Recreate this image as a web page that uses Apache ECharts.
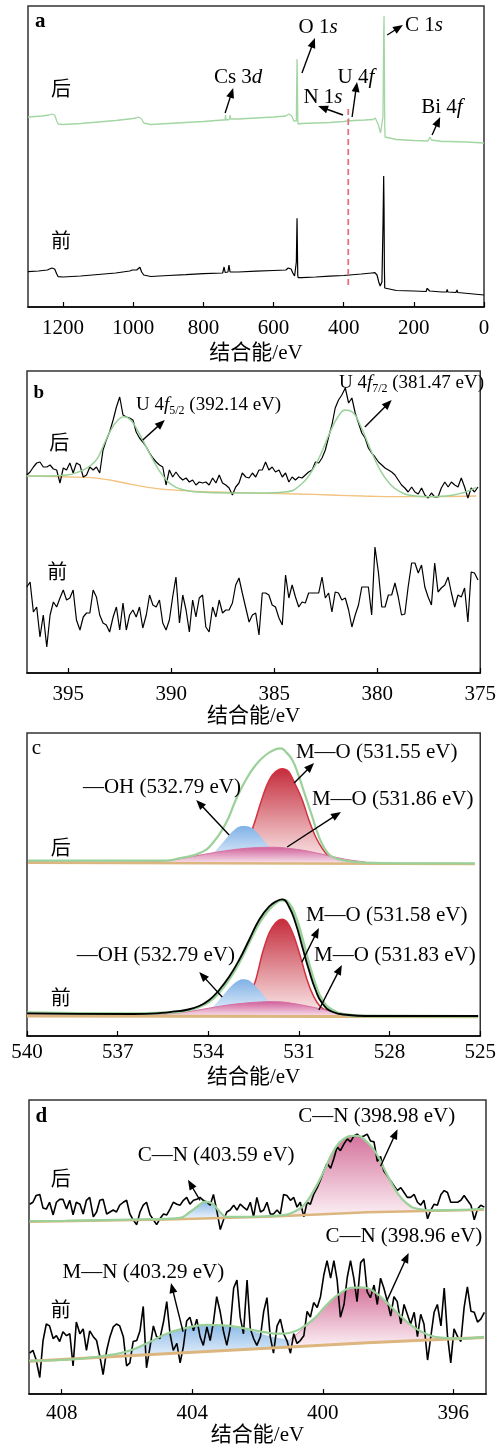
<!DOCTYPE html>
<html><head><meta charset="utf-8">
<script src="https://cdn.jsdelivr.net/npm/echarts@6/dist/echarts.min.js"></script>
<style>html,body{margin:0;padding:0;background:#fff}#c{width:499px;height:1447px}</style>
</head><body><div id="c"></div>
<script>
const SERIF = "'Liberation Serif','Noto Sans CJK SC',serif";
const CJK = "'Noto Sans CJK SC',sans-serif";
const GREEN = '#99d199', ORANGE = '#f2c27e', TAN = '#dcb67e';

// ---------- panel a : survey (binding energy eV, intensity a.u.) ----------
const aAfter = [[1300,190],[1280,190.5],[1260,191],[1240,192],[1232,193],[1228,195],[1224,192],[1218,186],[1214,183],[1200,182.5],[1150,183.5],[1100,185],[1050,186.5],[1000,188.5],[992,189],[985,190],[981,192],[976,188],[970,184],[966,182],[950,182.5],[900,183.5],[850,184.5],[800,185.5],[745,187],[738,187],[737,192],[735,187],[726,187.5],[724,192],[722,188],[700,188],[650,189],[600,190],[565,191],[556,193],[553,194],[548,191],[542,186],[539,184],[535,186],[534,220],[533,248],[532,230],[531,190],[530,183],[520,183.5],[480,184],[440,184.5],[400,185.5],[388,186],[386,189],[384,186],[370,186.5],[340,187],[316,187.5],[310,189],[306,190],[301,182],[295,174],[291,172],[288,190],[286,270],[285,291],[284,240],[283,180],[282,170],[280,168.5],[250,167.5],[200,166.5],[160,166],[156,168],[154,170],[150,167],[120,165.5],[100,165.5],[98,167],[96,165.5],[50,165],[0,164]];
const aBefore = [[1300,35.3],[1270,36],[1245,37],[1232,39],[1228,41],[1224,38],[1218,33],[1214,30.3],[1200,30],[1150,31],[1100,32.5],[1050,34],[1010,36],[1003,37],[1000,39],[996,37],[990,37],[981,39.7],[976,35],[970,32],[966,30.3],[950,30.5],[900,31.5],[850,32.3],[800,33.3],[745,34],[741,40],[738,34.5],[730,35],[727,42],[724,35],[700,35],[650,35.8],[600,36.5],[565,37],[558,39],[556,40.3],[550,38],[545,34],[540,31],[537,30.3],[535,45],[533,88.7],[532,60],[531,32],[530,29.3],[520,29.3],[480,30],[440,30.8],[400,31.5],[350,33],[320,34],[311,34.3],[305,32],[300,25],[296,21],[294,19.7],[291,25],[288,80],[286,131],[285,100],[284,40],[283,19],[282,17],[250,16.5],[200,16],[165,15.5],[162,18.7],[158,18.5],[155,16],[120,15],[107,15],[105,17.7],[103,15],[80,14.5],[77,17],[75,14.5],[30,13],[0,12]];
const aU4f = [[387,22],[387,199]];
const aTicks = [0,200,400,600,800,1000,1200];
const aNotes = [[1280,285,'{b|a}','left'],[473,280,'{n|O 1}{i|s}','center'],[171,282,'{n|C 1}{i|s}','center'],[701,230,'{n|Cs 3}{i|d}','center'],[365,230,'{n|U 4}{i|f}','center'],[459,210,'{n|N 1}{i|s}','center'],[120,200,'{n|Bi 4}{i|f}','center'],[1206,219,'{z|后}','center'],[1206,67,'{z|前}','center']];
const aArrows = [[519,234,482,269],[276,272,231,282],[738,194,715,219],[376,190,362,225],[402,192,473,201],[148,172,125,190]];

// ---------- panel b : U 4f ----------
const bE = [397.01,396.85,396.69,396.53,396.37,396.21,396.04,395.88,395.72,395.56,395.40,395.24,395.08,394.92,394.76,394.60,394.43,394.27,394.11,393.95,393.79,393.63,393.47,393.31,393.15,392.99,392.82,392.66,392.50,392.34,392.18,392.02,391.86,391.70,391.54,391.38,391.21,391.05,390.89,390.73,390.57,390.41,390.25,390.09,389.93,389.77,389.60,389.44,389.28,389.12,388.96,388.80,388.64,388.48,388.32,388.16,387.99,387.83,387.67,387.51,387.35,387.19,387.03,386.87,386.71,386.55,386.38,386.22,386.06,385.90,385.74,385.58,385.42,385.26,385.10,384.94,384.77,384.61,384.45,384.29,384.13,383.97,383.81,383.65,383.49,383.33,383.16,383.00,382.84,382.68,382.52,382.36,382.20,382.04,381.88,381.72,381.55,381.39,381.23,381.07,380.91,380.75,380.59,380.43,380.27,380.11,379.94,379.78,379.62,379.46,379.30,379.14,378.98,378.82,378.66,378.50,378.33,378.17,378.01,377.85,377.69,377.53,377.37,377.21,377.05,376.89,376.72,376.56,376.40,376.24,376.08,375.92,375.76,375.60,375.44,375.28,375.11];
const bAfter = [198,201,206,210,211,206,206,208,204,203,190,205,203,210,200,210,208,196,198,206,203,206,200,223,233,241,253,266,276,258,256,255,253,241,235,231,226,220,215,211,208,206,188,203,196,201,196,193,195,191,193,188,191,190,191,188,195,190,198,190,188,185,178,186,190,200,196,195,200,196,203,203,211,203,206,201,203,196,200,191,196,193,196,195,198,201,203,211,210,215,223,236,248,265,273,278,285,270,275,260,250,240,235,225,220,216,211,208,205,203,201,198,193,188,185,181,186,181,179,185,178,175,180,176,176,185,191,186,191,188,186,195,186,175,185,181,186];
const bBefore = [86,91,61,66,36,58,26,58,71,66,75,83,73,75,83,53,43,56,60,60,83,76,58,50,48,41,56,66,43,70,43,58,63,56,66,45,58,78,68,66,73,50,43,53,76,96,50,78,63,41,73,56,75,78,46,41,66,56,73,60,63,63,70,88,95,80,65,51,58,60,38,80,80,78,68,66,55,48,98,75,88,76,66,71,70,80,80,80,80,96,75,80,61,81,80,73,75,63,46,58,68,86,86,86,58,126,100,66,66,78,78,90,76,58,59,86,110,110,100,108,86,76,68,110,81,85,88,96,80,66,78,76,85,51,101,100,93];
const bFit = [[397.01,197],[395.97,197],[395.16,197.7],[394.36,202.3],[393.88,208],[393.55,215.7],[393.23,230.3],[392.91,243.7],[392.58,253],[392.29,256.3],[391.94,252.3],[391.62,242],[391.30,229.7],[390.97,216.3],[390.65,204.7],[390.33,195.3],[390.01,188.7],[389.52,183.7],[388.72,181],[387.11,180],[385.50,180],[384.37,181.3],[383.73,188],[383.24,199.7],[382.76,218],[382.28,241.3],[381.88,257],[381.55,263],[381.23,261.3],[380.83,248],[380.35,224.7],[379.86,203],[379.38,189],[378.90,181.3],[378.25,177.3],[377.45,176.3],[376.64,177],[375.84,180.3],[375.19,185.7]];
const bBack = [[397.01,197],[394.36,195.7],[393.55,194.7],[392.75,192],[391.94,188.7],[391.14,185.7],[390.33,183.7],[388.72,181.7],[387.11,180.7],[385.50,179.7],[383.89,179],[382.28,178],[380.67,177],[379.06,176.3],[377.45,176.3],[375.19,177]];
const bTicks = [375,380,385,390,395];
const bNotes = [[396.69,280,'{b|b}','left'],[391.71,268,'{n|U 4}{i|f}{s|5/2}{n| (392.14 eV)}','left'],[381.86,290,'{n|U 4}{i|f}{s|7/2}{n| (381.47 eV)}','left'],[395.43,231,'{z|后}','center'],[395.53,102,'{z|前}','center']];
const bArrows = [[391.38,233,390.31,253],[380.60,246,379.30,273]];

// ---------- panel c : O 1s ----------
const cAfterEnv = [[539.96,175.3],[535.40,175.3],[534.96,177.7],[534.30,182.7],[533.86,192.7],[533.42,212.7],[533.09,236],[532.76,256],[532.43,271],[532.10,281],[531.77,286.7],[531.60,287.7],[531.44,284.3],[531.22,276],[531.00,259.3],[530.78,239.3],[530.56,219.3],[530.34,199.3],[530.12,186],[529.90,179.3],[529.46,175.3],[528.80,173.3],[527.70,172.7],[525.18,172.7]];
const cAfterRed = [[533.20,174.3],[532.87,180],[532.65,195],[532.54,207],[532.43,217],[532.32,228],[532.10,248],[531.88,261],[531.66,266.5],[531.49,267],[531.33,264],[531.11,251],[530.89,236],[530.67,216],[530.45,199.3],[530.23,187.7],[530.01,179.3],[529.79,175.3],[529.57,174]];
const cAfterBlue = [[534.30,174.3],[533.97,179.3],[533.64,189.3],[533.31,201],[533.03,208.7],[532.78,210],[532.54,207.7],[532.26,199.3],[531.99,189.3],[531.66,179.3],[531.33,174.3]];
const cAfterPink = [[539.96,174],[536.49,174],[535.40,175.3],[534.74,178.3],[534.08,182],[533.42,185.3],[532.76,187.7],[532.10,188.7],[531.77,188.7],[531.44,188],[530.78,185.3],[530.12,181],[529.46,176.7],[528.80,174]];
const cAfterBase = [[539.96,173.3],[525.18,172]];
const cBeforeRaw = [[540.0,22.7],[536.49,22],[535.40,23.3],[535.18,24.3],[534.74,26],[534.30,30],[533.97,36],[533.64,46],[533.31,59.3],[532.98,76],[532.65,96],[532.32,116],[531.99,129.3],[531.71,135.3],[531.55,136.7],[531.33,129.3],[531.11,112.7],[530.89,89.3],[530.67,66],[530.45,46],[530.23,32.7],[529.90,24.3],[529.35,21],[528.80,20],[525.07,20]];
const cBeforeFit = [[540.0,23.3],[536.49,22.3],[535.40,23.3],[534.74,25.3],[534.30,29.3],[533.97,34.3],[533.64,43.7],[533.31,56.7],[532.98,73.3],[532.65,93.3],[532.32,112.7],[531.99,126.7],[531.71,134.3],[531.55,136],[531.33,132.7],[531.11,119.3],[530.89,97.7],[530.67,72.7],[530.45,51],[530.23,36],[529.90,26],[529.35,21],[528.80,20],[525.07,19.7]];
const cBeforeRed = [[532.98,22.7],[532.65,39.3],[532.43,56],[532.21,82.7],[531.99,102.7],[531.77,113.3],[531.57,116.7],[531.38,113.3],[531.16,99.3],[530.95,79.3],[530.73,56],[530.51,39.3],[530.29,29.3],[530.01,24.3],[529.79,21]];
const cBeforeBlue = [[534.30,21],[533.97,26],[533.64,36],[533.31,47.7],[533.03,55],[532.81,56.7],[532.59,54.3],[532.32,46],[532.04,36],[531.77,26],[531.44,21]];
const cBeforePink = [[540.0,22],[536.49,21],[535.40,22],[534.74,24],[534.08,27.3],[533.42,30.7],[532.76,33],[532.10,34.3],[531.77,34.3],[531.44,33.7],[530.78,30.3],[530.12,26],[529.46,22],[528.80,20]];
const cBeforeBase = [[540.0,20],[525.07,19.3]];
const cTicks = [525,528,531,534,537,540];
const cNotes = [[539.84,288,'{n|c}','left'],[538.15,249,'{n|—OH (532.79 eV)}','left'],[531.10,284,'{n|M—O (531.55 eV)}','left'],[530.57,237,'{n|M—O (531.86 eV)}','left'],[538.88,189,'{z|后}','center'],[530.77,121,'{n|M—O (531.58 eV)}','left'],[530.50,81,'{n|M—O (531.83 eV)}','left'],[538.35,81,'{n|—OH (532.79 eV)}','left'],[538.88,39,'{z|前}','center']];
const cArrows = [[533.31,201,534.40,236],[531.16,253,530.50,273],[531.39,189,529.61,224],[530.90,74,530.34,108],[530.34,26,529.58,71],[533.54,39,534.30,64]];

// ---------- panel d : N 1s ----------
const dE = [408.98,408.88,408.78,408.67,408.57,408.47,408.37,408.26,408.16,408.06,407.96,407.85,407.75,407.65,407.55,407.44,407.34,407.24,407.14,407.03,406.93,406.83,406.73,406.62,406.52,406.42,406.32,406.22,406.11,406.01,405.91,405.81,405.70,405.60,405.50,405.40,405.29,405.19,405.09,404.99,404.88,404.78,404.68,404.58,404.47,404.37,404.27,404.17,404.07,403.96,403.86,403.76,403.66,403.55,403.45,403.35,403.25,403.14,403.04,402.94,402.84,402.73,402.63,402.53,402.43,402.32,402.22,402.12,402.02,401.91,401.81,401.71,401.61,401.51,401.40,401.30,401.20,401.10,400.99,400.89,400.79,400.69,400.58,400.48,400.38,400.28,400.17,400.07,399.97,399.87,399.76,399.66,399.56,399.46,399.35,399.25,399.15,399.05,398.95,398.84,398.74,398.64,398.54,398.43,398.33,398.23,398.13,398.02,397.92,397.82,397.72,397.61,397.51,397.41,397.31,397.20,397.10,397.00,396.90,396.79,396.69,396.59,396.49,396.38,396.28,396.18,396.08,395.98,395.87,395.77,395.67,395.57,395.46,395.36,395.26,395.16,395.05];
const dAfter = [195,197,204,205,191,190,197,184,197,200,200,190,199,184,197,195,185,199,202,182,187,199,200,185,187,189,187,194,197,199,185,179,174,187,194,197,184,179,174,180,185,184,190,197,195,194,199,202,195,199,200,202,199,197,194,205,189,169,179,187,189,194,189,195,192,189,197,182,202,187,189,197,185,185,189,185,205,204,199,202,192,197,182,197,195,205,212,220,229,237,232,242,254,250,257,262,259,265,267,264,265,267,260,259,239,244,229,224,219,214,209,212,207,202,202,205,197,194,199,180,189,195,194,205,209,207,197,197,197,199,204,199,194,179,190,194,192];
const dBefore = [42,45,35,17,55,72,70,57,60,54,64,60,62,29,74,62,67,45,65,59,55,39,20,45,59,69,72,70,59,29,32,54,55,65,90,27,49,70,59,57,74,95,62,45,52,32,49,75,79,65,77,59,50,69,55,74,100,84,64,50,67,109,117,79,62,117,67,57,50,59,85,99,59,42,70,77,62,55,42,62,52,55,60,85,79,94,89,100,122,137,119,137,117,79,92,120,137,119,95,135,139,105,99,112,92,119,109,95,80,100,95,72,92,82,72,84,59,82,72,35,59,84,92,70,109,60,32,67,59,54,89,110,85,84,74,77,84];
const dAfterFit = [[408.98,177.7],[407.86,178],[406.83,178.7],[405.81,179.3],[404.78,180],[404.37,181],[404.07,187],[403.76,194.7],[403.61,197.7],[403.40,196],[403.15,187],[402.94,182],[402.53,182],[401.71,182.7],[401.20,183.7],[400.89,187],[400.59,193.7],[400.28,208.7],[399.97,228.7],[399.66,250.3],[399.36,262],[399.00,265.3],[398.64,258.7],[398.33,245.3],[398.03,225.3],[397.72,207],[397.41,195.3],[397.10,190.3],[396.59,188.7],[395.57,189.3],[395.06,190.3]];
const dAfterBase = [[408.98,177],[404.78,179.3],[401.71,182],[398.64,186.7],[395.06,189.3]];
const dAfterPink = [[401.30,183.3],[400.89,187],[400.59,193.7],[400.28,208.7],[399.97,228.7],[399.66,250.3],[399.36,262],[399.00,265.3],[398.64,258.7],[398.33,245.3],[398.03,225.3],[397.72,207],[397.41,195.3],[397.10,190.3],[396.79,188.5]];
const dAfterPinkBase = [[401.30,182.2],[396.79,188.3]];
const dAfterBlue = [[404.47,180.3],[404.27,182.5],[404.07,187],[403.76,194.7],[403.61,197.7],[403.40,196],[403.15,187],[402.94,182],[402.74,181.2]];
const dAfterBlueBase = [[404.47,179.6],[402.74,180.7]];
const dBeforeFit = [[408.98,34.3],[407.86,35.3],[406.83,38.7],[406.01,43.7],[405.40,52],[404.78,62],[404.17,68],[403.56,71],[402.94,70.3],[402.33,67],[401.81,63.7],[401.30,62],[401.00,63],[400.69,67],[400.28,77],[399.87,92],[399.46,103.7],[399.05,109.3],[398.74,109.3],[398.43,105.3],[398.03,93.7],[397.62,80.3],[397.21,68.7],[396.80,61.3],[396.39,58],[395.77,57],[395.06,58.7]];
const dBeforeBase = [[408.98,33.7],[405.81,39.7],[401.71,47],[398.64,52.7],[395.06,58]];
const dBeforeBlue = [[408.98,34.7],[406.83,38.7],[406.01,43.7],[405.40,52],[404.78,61.3],[404.17,67.7],[403.56,70.7],[402.94,70],[402.33,66],[401.71,60.3],[401.10,56],[400.48,53.3],[399.87,52],[399.26,52],[398.64,53],[397.62,54.3],[396.59,56],[395.06,58]];
const dBeforePink = [[401.00,56],[400.69,64.7],[400.28,77],[399.87,92],[399.46,103.7],[399.05,109.3],[398.74,109.3],[398.43,105.3],[398.03,93.7],[397.62,80.3],[397.21,68.7],[396.80,61.3],[396.39,58],[396.08,56.7]];
const dBeforePinkBase = [[401.00,47.8],[396.08,55.6]];
const dTicks = [396,400,404,408];
const dNotes = [[408.8,285,'{b|d}','left'],[400.75,285,'{n|C—N (398.98 eV)}','left'],[405.67,245,'{n|C—N (403.59 eV)}','left'],[408.03,222,'{z|后}','center'],[399.92,162,'{n|C—N (398.96 eV)}','left'],[407.97,125,'{n|M—N (403.29 eV)}','left'],[408.03,87,'{z|前}','center']];
const dArrows = [[398.23,234,397.71,272],[403.76,199,404.13,220],[398.02,97,397.37,145],[404.28,64,404.65,114]];

// ---------- helpers ----------
const zip = (xs, ys) => xs.map((x, i) => [x, ys[i]]);
function line(g, data, color, width, smooth, extra) {
  return Object.assign({type:'line', xAxisIndex:g, yAxisIndex:g, data, symbol:'none', smooth:smooth||false,
    lineStyle:{color, width}, silent:true, animation:false}, extra||{});
}
function catmull(p) {
  let d = 'M' + p[0][0] + ',' + p[0][1];
  for (let i = 0; i < p.length - 1; i++) {
    const p0 = p[Math.max(i-1,0)], p1 = p[i], p2 = p[i+1], p3 = p[Math.min(i+2,p.length-1)];
    d += 'C' + (p1[0]+(p2[0]-p0[0])/6) + ',' + (p1[1]+(p2[1]-p0[1])/6) + ',' +
         (p2[0]-(p3[0]-p1[0])/6) + ',' + (p2[1]-(p3[1]-p1[1])/6) + ',' + p2[0] + ',' + p2[1];
  }
  return d;
}
function fill(g, top, base, c0, c1, stroke, sw) {
  return {type:'custom', xAxisIndex:g, yAxisIndex:g, data:top, encode:{x:0,y:1}, silent:true, animation:false, clip:true,
    renderItem(params, api) {
      if (params.dataIndex !== 0) return null;
      const tp = top.map(p => api.coord(p));
      const bp = base.map(p => api.coord(p)).reverse();
      let d = catmull(tp);
      bp.forEach(p => { d += 'L' + p[0] + ',' + p[1]; });
      d += 'Z';
      const ch = [{type:'path', shape:{pathData:d}, style:{fill:new echarts.graphic.LinearGradient(0,0,0,1,[{offset:0,color:c0},{offset:1,color:c1}])}}];
      if (stroke) ch.push({type:'path', shape:{pathData:catmull(tp)}, style:{fill:'none', stroke, lineWidth:sw||1.5}});
      return {type:'group', children:ch};
    }};
}
function xAxis(g, min, max, ticks, margin, gap, interval, showMax) {
  const ax = {type:'value', gridIndex:g, min, max, inverse:true,
    axisLine:{show:true, onZero:false, lineStyle:{color:'#000', width:1.5}},
    axisTick:{show:true, inside:true, length:5, lineStyle:{color:'#000', width:1.2}},
    axisLabel:{show:true, margin, fontSize:21, fontFamily:SERIF, color:'#000', showMaxLabel:showMax, showMinLabel:true,
      formatter: v => String(v)},
    splitLine:{show:false},
    name:'结合能/eV', nameLocation:'middle', nameGap:gap, nameTextStyle:{fontSize:21, fontFamily:SERIF, color:'#000'}};
  if (interval) { ax.interval = interval; }
  else { ax.axisLabel.customValues = ticks; ax.axisTick.customValues = ticks; }
  return ax;
}
function yAxis(g, h) { return {type:'value', gridIndex:g, min:0, max:h, show:false}; }

const grids = [
  {left:28, top:6, width:456, height:301},
  {left:27, top:371, width:457, height:302},
  {left:27, top:733, width:455, height:303},
  {left:29, top:1100, width:457, height:302}
].map(g => Object.assign(g, {show:true, borderColor:'#333', borderWidth:1.5, backgroundColor:'transparent'}));

const series = [
  // a
  line(0, aBefore, '#000', 1.2),
  line(0, aAfter, '#a3d6a3', 1.3),
  line(0, aU4f, '#e8707e', 1.8, false, {lineStyle:{color:'#e8707e', width:1.8, type:[6,4]}}),
  // b
  line(1, zip(bE, bBefore), '#000', 1.2),
  line(1, bBack, ORANGE, 1.3, true),
  line(1, zip(bE, bAfter), '#000', 1.2),
  line(1, bFit, GREEN, 1.5, true),
  // c upper
  fill(2, cAfterRed, [[533.20,173],[529.57,173]], '#c52c3c', '#fbeeee', '#d2323f', 1.5),
  fill(2, cAfterBlue, [[534.30,173],[531.33,173]], '#7fb1e6', '#eef5fc', null),
  fill(2, cAfterPink, [[539.96,173],[528.80,173]], '#d0609a', '#f7e0ea', '#d86fa3', 1),
  line(2, cAfterBase, TAN, 2.5),
  line(2, cAfterEnv, GREEN, 2.2, true),
  // c lower
  fill(2, cBeforeRed, [[532.98,20],[529.79,20]], '#c52c3c', '#fbeeee', '#d2323f', 1.5),
  fill(2, cBeforeBlue, [[534.30,20],[531.44,20]], '#7fb1e6', '#eef5fc', null),
  fill(2, cBeforePink, [[540.0,20],[528.80,20]], '#d0609a', '#f7e0ea', '#d86fa3', 1),
  line(2, cBeforeBase, TAN, 3),
  line(2, cBeforeFit, GREEN, 2.8, true),
  line(2, cBeforeRaw, '#000', 1.8, true),
  // d upper
  fill(3, dAfterBlue, dAfterBlueBase, '#8dbbe8', '#eef5fc', null),
  fill(3, dAfterPink, dAfterPinkBase, '#d5739c', '#fcf1f5', null),
  line(3, zip(dE, dAfter), '#000', 1.6),
  line(3, dAfterBase, TAN, 2.5),
  line(3, dAfterFit, GREEN, 2.2, true),
  // d lower
  fill(3, dBeforeBlue, dBeforeBase, '#8dbbe8', '#f2f7fd', null),
  fill(3, dBeforePink, dBeforePinkBase, '#d5739c', '#fcf1f5', '#d98aac', 1),
  line(3, zip(dE, dBefore), '#000', 1.6),
  line(3, dBeforeBase, TAN, 3),
  line(3, dBeforeFit, GREEN, 2.2, true)
];

const chart = echarts.init(document.getElementById('c'), null, {renderer:'canvas'});
chart.setOption({
  animation:false,
  backgroundColor:'#fff',
  grid: grids,
  xAxis: [xAxis(0, 0, 1300, aTicks, 11, 36, 200, false), xAxis(1, 375, 397, bTicks, 11, 29, 5, false),
          xAxis(2, 525, 540, cTicks, 6, 31, 3, true), xAxis(3, 395, 409, dTicks, 9, 27, null, true)],
  yAxis: [yAxis(0, 301), yAxis(1, 302), yAxis(2, 303), yAxis(3, 302)],
  series
});

function rich(fs) {
  const lh = Math.round(fs * 1.2), ss = Math.round(fs * 0.62);
  return {
    n:{fontFamily:SERIF, fontSize:fs, fill:'#000', lineHeight:lh},
    i:{fontFamily:SERIF, fontSize:fs, fontStyle:'italic', fill:'#000', lineHeight:lh},
    s:{fontFamily:SERIF, fontSize:ss, fill:'#000', verticalAlign:'bottom', lineHeight:ss},
    b:{fontFamily:SERIF, fontSize:fs, fontWeight:'bold', fill:'#000', lineHeight:lh},
    z:{fontFamily:CJK, fontSize:20, fill:'#000', lineHeight:24}
  };
}
const els = [];
function addNotes(g, notes, fs) {
  notes.forEach(n => {
    const p = chart.convertToPixel({gridIndex:g}, [n[0], n[1]]);
    els.push({type:'text', z:100, x:p[0], y:p[1], silent:true,
      style:{text:n[2], align:n[3], verticalAlign:'middle', rich:rich(fs), fontFamily:SERIF, fontSize:fs, fill:'#000'}});
  });
}
function addArrows(g, arrows) {
  arrows.forEach(r => {
    const a = chart.convertToPixel({gridIndex:g}, [r[0], r[1]]);
    const b = chart.convertToPixel({gridIndex:g}, [r[2], r[3]]);
    const dx = b[0]-a[0], dy = b[1]-a[1], L = Math.hypot(dx, dy), ux = dx/L, uy = dy/L;
    const hl = 10, hw = 4;
    const bx = b[0]-ux*hl, by = b[1]-uy*hl;
    els.push({type:'line', z:100, silent:true, shape:{x1:a[0], y1:a[1], x2:bx+ux*2, y2:by+uy*2}, style:{stroke:'#000', lineWidth:1.4}});
    els.push({type:'polygon', z:100, silent:true, shape:{points:[[b[0],b[1]],[bx-uy*hw,by+ux*hw],[bx+uy*hw,by-ux*hw]]}, style:{fill:'#000'}});
  });
}
addNotes(0, aNotes, 21); addArrows(0, aArrows);
addNotes(1, bNotes, 19); addArrows(1, bArrows);
addNotes(2, cNotes, 21); addArrows(2, cArrows);
addNotes(3, dNotes, 21); addArrows(3, dArrows);
chart.setOption({graphic:{elements:els}});
</script></body></html>
